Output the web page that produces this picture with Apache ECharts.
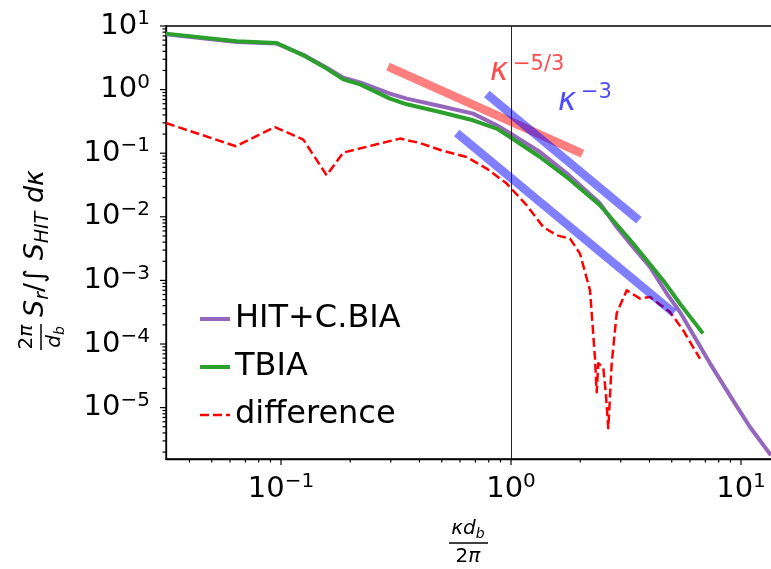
<!DOCTYPE html>
<html><head><meta charset="utf-8">
<script src="https://cdn.jsdelivr.net/npm/echarts@6/dist/echarts.min.js"></script>
<style>html,body{margin:0;padding:0;background:#fff}#c{width:771px;height:569px}</style>
</head><body><div id="c"></div>
<script>
// ---- data ----
const hitK = [0.0316, 0.0642, 0.0958, 0.125, 0.158, 0.1866, 0.2206, 0.2978, 0.352, 0.491, 0.684, 0.867, 0.990, 1.337, 1.746, 2.437, 2.88, 3.39, 4.02, 4.75, 5.43, 7.33, 9.23, 10.94, 13.5];
const hitS = [7.40, 5.60, 5.29, 3.53, 2.2, 1.533, 1.30, 0.865, 0.722, 0.552, 0.419, 0.275, 0.2056, 0.1044, 0.0483, 0.0163, 0.00692, 0.00335, 0.001625, 6.27e-4, 3.18e-4, 4.97e-5, 1.30e-5, 4.96e-6, 1.78e-6];

const tbiaK = [0.0316, 0.0642, 0.0958, 0.125, 0.158, 0.1866, 0.2206, 0.2978, 0.352, 0.491, 0.684, 0.867, 0.990, 1.337, 1.746, 2.437, 3.39, 4.59, 5.43, 6.83];
const tbiaS = [7.59, 5.75, 5.40, 3.46, 2.14, 1.45, 1.21, 0.722, 0.587, 0.444, 0.329, 0.2436, 0.180, 0.0871, 0.0422, 0.0152, 0.00383, 0.00100, 4.29e-4, 1.47e-4];

const diffK = [0.0316, 0.0637, 0.0941, 0.125, 0.158, 0.1866, 0.2606, 0.329, 0.402, 0.508, 0.642, 0.784, 0.958, 1.170, 1.382, 1.580, 1.805, 1.995, 2.206, 2.317, 2.358, 2.396, 2.519, 2.588, 2.649, 2.741, 2.881, 3.185, 3.639, 4.02, 4.91, 5.61, 6.63];
const diffS = [0.2985, 0.1284, 0.258, 0.1637, 0.0449, 0.1022, 0.138, 0.1697, 0.1447, 0.1083, 0.0872, 0.0573, 0.0333, 0.0152, 0.00691, 0.00512, 0.00454, 0.00264, 6.98e-4, 6.18e-5, 1.74e-5, 4.97e-5, 4.31e-5, 1.56e-5, 4.73e-6, 4.97e-5, 3.04e-4, 6.98e-4, 5.18e-4, 5.48e-4, 3.18e-4, 1.64e-4, 5.89e-5];

const k53K = [0.292, 2.045];
const k53S = [2.30, 0.0986];
const k3aK = [0.785, 3.6];
const k3aS = [0.85, 0.0088];
const k3bK = [0.581, 5.11];
const k3bS = [0.208, 3.07e-4];

const xMajorTicks = [0.1, 1, 10];
const yMajorTicks = [1e-5, 1e-4, 1e-3, 1e-2, 1e-1, 1, 10];
const minorMultipliers = [2, 3, 4, 5, 6, 7, 8, 9];
const xDecades = [0.01, 0.1, 1, 10];
const yDecades = [1e-6, 1e-5, 1e-4, 1e-3, 1e-2, 1e-1, 1];

const X_MIN = 0.03162, X_MAX = 14.34;
const Y_MIN = 1.556e-6, Y_MAX = 10;

const legendNames = ['HIT+C.BIA', 'TBIA', 'difference'];

// ---- helpers ----
const pairs = (xs, ys) => xs.map((x, i) => [x, ys[i]]);
const xMinor = [], yMinor = [];
xDecades.forEach(d => minorMultipliers.forEach(m => { const v = d * m; if (v > X_MIN && v < X_MAX) xMinor.push([v, Y_MIN]); }));
yDecades.forEach(d => minorMultipliers.forEach(m => { const v = d * m; if (v > Y_MIN && v < Y_MAX) yMinor.push([X_MIN, v]); }));
const FF = 'DejaVu Sans';

function expLabel(v) {
  const l = Math.log10(v);
  const e = Math.round(l);
  if (Math.abs(l - e) > 1e-6) return '';
  const s = e < 0 ? '\u2212' + (-e) : String(e);
  return '{b|10}{s|' + s + '}';
}
const tickRich = {
  b: { fontSize: 29, fontFamily: FF, color: '#000', lineHeight: 34 },
  s: { fontSize: 20, fontFamily: FF, color: '#000', lineHeight: 20, verticalAlign: 'top' }
};

function tickSeries(data, dx, dy, len) {
  return {
    type: 'custom', silent: true, clip: false, z: 10, animation: false,
    data: data,
    renderItem: function (params, api) {
      const p = api.coord([api.value(0), api.value(1)]);
      return { type: 'line', shape: { x1: p[0], y1: p[1], x2: p[0] + dx * len, y2: p[1] + dy * len },
               style: { stroke: '#000', lineWidth: 1.2 } };
    }
  };
}

const mathRich = {
  i: { fontSize: 27, fontStyle: 'italic', fontFamily: FF, color: '#000', lineHeight: 34 },
  n: { fontSize: 27, fontFamily: FF, color: '#000', lineHeight: 34 },
  sub: { fontSize: 19, fontStyle: 'italic', fontFamily: FF, color: '#000', lineHeight: 14, verticalAlign: 'bottom' },
  fi: { fontSize: 20, fontStyle: 'italic', fontFamily: FF, color: '#000', lineHeight: 24 },
  fn: { fontSize: 20, fontFamily: FF, color: '#000', lineHeight: 24 },
  fsub: { fontSize: 14, fontStyle: 'italic', fontFamily: FF, color: '#000', lineHeight: 10, verticalAlign: 'bottom' }
};

const chart = echarts.init(document.getElementById('c'), null, { renderer: 'canvas' });
chart.setOption({
  animation: false,
  backgroundColor: '#fff',
  grid: { left: 166, top: 26, width: 611, height: 433, containLabel: false, outerBoundsMode: 'none',
          show: true, borderColor: '#000', borderWidth: 1.3, backgroundColor: 'transparent' },
  xAxis: {
    type: 'log', logBase: 10, min: X_MIN, max: X_MAX,
    axisLine: { show: true, lineStyle: { color: '#000', width: 1.3 } },
    axisTick: { show: false }, splitLine: { show: false }, minorTick: { show: false },
    axisLabel: { formatter: expLabel, rich: tickRich, margin: 13, color: '#000' }
  },
  yAxis: {
    type: 'log', logBase: 10, min: Y_MIN, max: Y_MAX,
    axisLine: { show: true, lineStyle: { color: '#000', width: 1.3 } },
    axisTick: { show: false }, splitLine: { show: false }, minorTick: { show: false },
    axisLabel: { formatter: expLabel, rich: tickRich, margin: 16, color: '#000' }
  },
  legend: {
    data: [
      { name: legendNames[0], lineStyle: { width: 4 } },
      { name: legendNames[1], lineStyle: { width: 4 } },
      { name: legendNames[2], lineStyle: { width: 2.5, type: [9, 4] } }
    ],
    orient: 'vertical', left: 193, top: 296, itemWidth: 30, itemHeight: 10, itemGap: 12,
    itemStyle: { opacity: 0 },
    textStyle: { fontSize: 32, fontFamily: FF, color: '#000', lineHeight: 36 },
    selectedMode: false
  },
  graphic: [
    { type: 'group', x: 41, y: 350, rotation: Math.PI / 2, children: [
      { type: 'text', x: 13, y: -2, style: { text: '{fn|2}{fi|π}', rich: mathRich, align: 'center', verticalAlign: 'bottom' } },
      { type: 'line', shape: { x1: 0, y1: 0, x2: 26, y2: 0 }, style: { stroke: '#000', lineWidth: 1.5 } },
      { type: 'text', x: 13, y: 2, style: { text: '{fi|d}{fsub|b}', rich: mathRich, align: 'center', verticalAlign: 'top' } },
      { type: 'text', x: 33, y: -5, style: { text: '{i|S}{sub|r}{n|/∫ }{i|S}{sub|HIT}{i| dκ}', rich: mathRich, align: 'left', verticalAlign: 'middle' } }
    ]},
    { type: 'text', x: 468, y: 541, style: { text: '{fi|κd}{fsub|b}', rich: mathRich, align: 'center', verticalAlign: 'bottom' } },
    { type: 'line', shape: { x1: 449, y1: 543, x2: 488, y2: 543 }, style: { stroke: '#000', lineWidth: 1.5 } },
    { type: 'text', x: 468, y: 545, style: { text: '{fn|2}{fi|π}', rich: mathRich, align: 'center', verticalAlign: 'top' } },
    { type: 'text', x: 490, y: 72.3, style: { text: 'κ', fontSize: 31, fontStyle: 'italic', fontFamily: FF, fill: '#ff4d4d', align: 'left', verticalAlign: 'middle' } },
    { type: 'text', x: 513, y: 64.7, style: { text: '\u22125/3', fontSize: 21, fontFamily: FF, fill: '#ff4d4d', align: 'left', verticalAlign: 'middle' } },
    { type: 'text', x: 558, y: 102.3, style: { text: 'κ', fontSize: 31, fontStyle: 'italic', fontFamily: FF, fill: '#4d4dff', align: 'left', verticalAlign: 'middle' } },
    { type: 'text', x: 581, y: 92.7, style: { text: '\u22123', fontSize: 21, fontFamily: FF, fill: '#4d4dff', align: 'left', verticalAlign: 'middle' } }
  ],
  series: [
    { name: 'HIT+C.BIA', type: 'line', data: pairs(hitK, hitS), symbol: 'none', z: 2,
      lineStyle: { color: '#9467bd', width: 4, join: 'round' }, itemStyle: { color: '#9467bd' } },
    { name: 'TBIA', type: 'line', data: pairs(tbiaK, tbiaS), symbol: 'none', z: 3,
      lineStyle: { color: '#2ca02c', width: 4, join: 'round' }, itemStyle: { color: '#2ca02c' } },
    { name: 'difference', type: 'line', data: pairs(diffK, diffS), symbol: 'none', z: 4,
      lineStyle: { color: '#ff0000', width: 2.5, type: [9, 4], join: 'round' }, itemStyle: { color: '#ff0000' } },
    { name: 'k53', type: 'line', data: pairs(k53K, k53S), symbol: 'none', z: 5,
      lineStyle: { color: '#ff0000', width: 8.5, opacity: 0.5 } },
    { name: 'k3a', type: 'line', data: pairs(k3aK, k3aS), symbol: 'none', z: 5,
      lineStyle: { color: '#0000ff', width: 8.5, opacity: 0.5 } },
    { name: 'k3b', type: 'line', data: pairs(k3bK, k3bS), symbol: 'none', z: 5,
      lineStyle: { color: '#0000ff', width: 8.5, opacity: 0.5 },
      markLine: { silent: true, symbol: 'none', label: { show: false }, lineStyle: { color: '#000', width: 1, type: 'solid', opacity: 0.85 }, data: [{ xAxis: 1 }] } },
    tickSeries(xMajorTicks.map(v => [v, Y_MIN]), 0, 1, 6),
    tickSeries(yMajorTicks.map(v => [X_MIN, v]), -1, 0, 6),
    tickSeries(xMinor, 0, 1, 3.5),
    tickSeries(yMinor, -1, 0, 3.5)
  ]
});
</script>
</body></html>
